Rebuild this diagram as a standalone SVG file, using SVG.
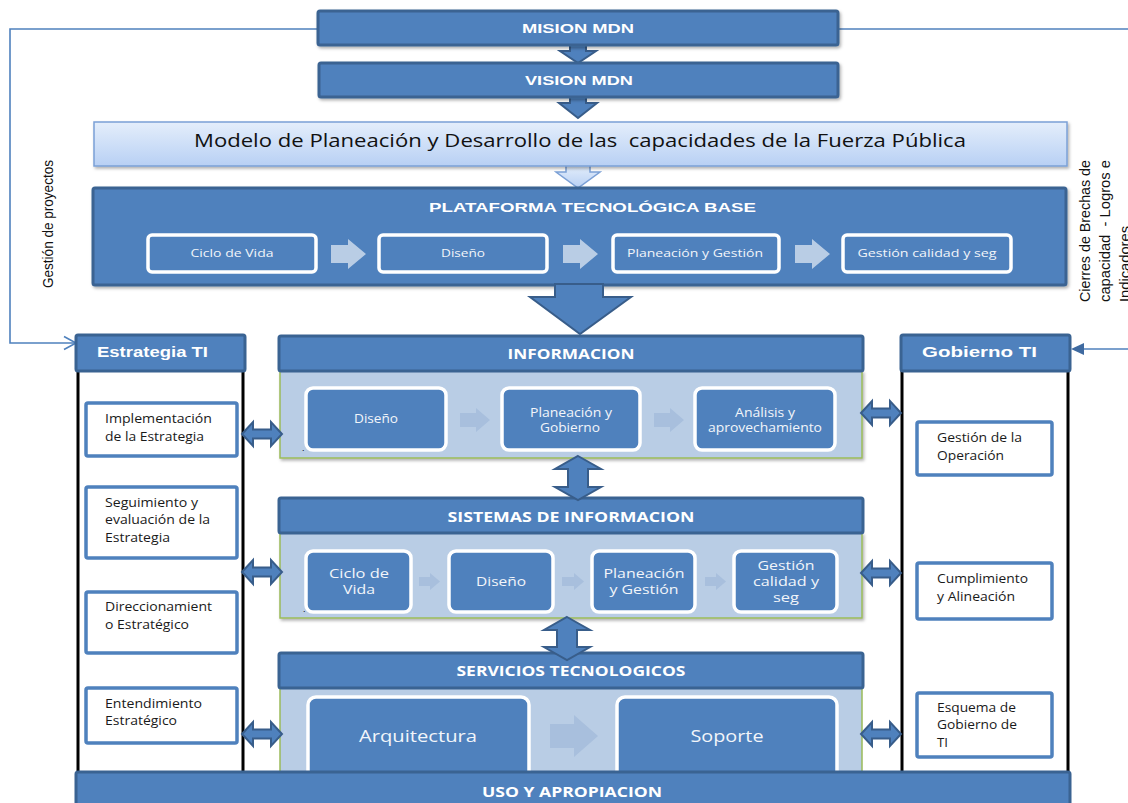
<svg xmlns="http://www.w3.org/2000/svg" xmlns:xlink="http://www.w3.org/1999/xlink" width="1128" height="803" viewBox="0 0 1128 803">
<defs>
  <linearGradient id="gModelo" x1="0" y1="0" x2="0" y2="1">
    <stop offset="0" stop-color="#e4eefb"/>
    <stop offset="1" stop-color="#b8d0f4"/>
  </linearGradient>
  <filter id="sh" x="-5%" y="-20%" width="110%" height="150%">
    <feDropShadow dx="1.5" dy="2" stdDeviation="1.5" flood-color="#000" flood-opacity="0.3"/>
  </filter>
  <path id="ha" d="M-20,0 L-9,-12 L-9,-4.5 L9,-4.5 L9,-12 L20,0 L9,12 L9,4.5 L-9,4.5 L-9,12 Z"/>
</defs>
<style>
  .blue{fill:#4f81bd;stroke:#3a6392;stroke-width:3}
  .arr{fill:#4f81bd;stroke:#385d8a;stroke-width:2;stroke-linejoin:miter}
  .body{fill:#b9cde5;stroke:#9bbb59;stroke-width:1.5}
  .inner{fill:#4f81bd;stroke:#ffffff;stroke-width:3.5}
  .wbox{fill:#ffffff;stroke:#4f81bd;stroke-width:3.5}
  .lite{fill:#b9cde5}
  .lite2{fill:#a8bfdd}
  .line{fill:none;stroke:#4f81bd;stroke-width:1.6}
  .col{stroke:#000;stroke-width:3}
  .ah{font-family:"Liberation Sans",Arial,sans-serif;font-weight:bold;fill:#ffffff}
  .ch{font-family:"Open Sans","Liberation Sans",sans-serif;font-weight:bold;fill:#ffffff}
  .ct{font-family:"Open Sans","Liberation Sans",sans-serif;fill:#f2f5fa}
  .dk{font-family:"Open Sans","Liberation Sans",sans-serif;fill:#1a1a1a;font-size:12.5px}
  .rot{font-family:"Liberation Sans",Arial,sans-serif;fill:#111;font-size:14px}
  .mid{text-anchor:middle}
</style>

<rect width="1128" height="803" fill="#ffffff"/>

<!-- connectors -->
<g id="connectors">
  <path class="line" d="M318,29 H10 V343 H75"/>
  <path class="line" d="M64,336.5 L76,343 L64,349.5"/>
  <path class="line" d="M838,29 H1128"/>
  <path class="line" d="M1128,349 H1082"/>
  <path d="M1071,349 L1084,343 L1084,355 Z" fill="#3f6aa0"/>
  <path class="arr" d="M570,45 H586 V51 H596 L578,63 L560,51 H570 Z"/>
  <path class="arr" d="M570,97 H586 V103 H597 L578,118 L559,103 H570 Z"/>
  <path d="M566,165 H590 V172 H600 L578,188 L556,172 H566 Z" fill="url(#gModelo)" stroke="#7ba0d6" stroke-width="1.5"/>
</g>

<g id="rot-gestion">
  <text class="rot" transform="translate(53,288) rotate(-90)" textLength="128" lengthAdjust="spacingAndGlyphs">Gestión de proyectos</text>
</g>
<g id="rot-cierres">
  <text class="rot" transform="translate(1090,302) rotate(-90)" textLength="142" lengthAdjust="spacingAndGlyphs">Cierres de Brechas de</text>
  <text class="rot" transform="translate(1110,302) rotate(-90)" textLength="142" lengthAdjust="spacingAndGlyphs">capacidad&#160; - Logros e</text>
  <text class="rot" transform="translate(1130,302) rotate(-90)" textLength="76" lengthAdjust="spacingAndGlyphs">Indicadores</text>
</g>

<g id="mision">
  <rect class="blue" x="318" y="11" width="520" height="34" rx="2" filter="url(#sh)"/>
  <text class="ah" x="522" y="33" font-size="13" textLength="112" lengthAdjust="spacingAndGlyphs">MISION MDN</text>
</g>
<g id="vision">
  <rect class="blue" x="319" y="63" width="519" height="34" rx="2" filter="url(#sh)"/>
  <text class="ah" x="525" y="85" font-size="13" textLength="108" lengthAdjust="spacingAndGlyphs">VISION MDN</text>
</g>
<g id="modelo">
  <rect x="94" y="122" width="973" height="44" fill="url(#gModelo)" stroke="#7ba0d6" stroke-width="1.5" filter="url(#sh)"/>
  <text x="194" y="147" font-family="'Open Sans','Liberation Sans',sans-serif" font-size="17.5" fill="#111" textLength="772" lengthAdjust="spacingAndGlyphs">Modelo de Planeación y Desarrollo de las&#160; capacidades de la Fuerza Pública</text>
</g>

<g id="plataforma">
  <rect class="blue" x="93" y="188" width="973" height="97" rx="2" filter="url(#sh)"/>
  <text class="ah" x="429" y="212" font-size="13" textLength="327" lengthAdjust="spacingAndGlyphs">PLATAFORMA TECNOLÓGICA BASE</text>
  <rect class="inner" x="148" y="235" width="168" height="37" rx="4"/>
  <rect class="inner" x="379" y="235" width="168" height="37" rx="4"/>
  <rect class="inner" x="613" y="235" width="166" height="37" rx="4"/>
  <rect class="inner" x="843" y="235" width="168" height="37" rx="4"/>
  <text class="ct mid" x="232" y="257" font-size="11" textLength="83" lengthAdjust="spacingAndGlyphs">Ciclo de Vida</text>
  <text class="ct mid" x="463" y="257" font-size="11" textLength="44" lengthAdjust="spacingAndGlyphs">Diseño</text>
  <text class="ct mid" x="695" y="257" font-size="11" textLength="136" lengthAdjust="spacingAndGlyphs">Planeación y Gestión</text>
  <text class="ct mid" x="927" y="257" font-size="11" textLength="139" lengthAdjust="spacingAndGlyphs">Gestión calidad y seg</text>
  <path class="lite" d="M331,245 H348 V239 L366,254 L348,269 V263 H331 Z"/>
  <path class="lite" d="M563,245 H580 V239 L598,254 L580,269 V263 H563 Z"/>
  <path class="lite" d="M795,245 H812 V239 L830,254 L812,269 V263 H795 Z"/>
</g>
<g id="big-arrow">
  <path class="arr" d="M555,284 H603 V297 H631 L580,334 L530,297 H555 Z"/>
</g>

<g id="estrategia">
  <rect x="78" y="371" width="165" height="402" fill="#ffffff"/>
  <line class="col" x1="78" y1="370" x2="78" y2="774"/>
  <line class="col" x1="243" y1="370" x2="243" y2="774"/>
  <rect class="blue" x="76" y="335" width="169" height="36" rx="2"/>
  <text class="ah" x="97" y="357" font-size="15" textLength="111" lengthAdjust="spacingAndGlyphs">Estrategia TI</text>
</g>
<g id="est-impl">
  <rect class="wbox" x="86" y="403" width="151" height="53" rx="2"/>
  <text class="dk" x="105" y="423" textLength="107" lengthAdjust="spacingAndGlyphs">Implementación</text>
  <text class="dk" x="105" y="441" textLength="99" lengthAdjust="spacingAndGlyphs">de la Estrategia</text>
</g>
<g id="est-seg">
  <rect class="wbox" x="86" y="487" width="151" height="71" rx="2"/>
  <text class="dk" x="105" y="507" textLength="93" lengthAdjust="spacingAndGlyphs">Seguimiento y</text>
  <text class="dk" x="105" y="524" textLength="105" lengthAdjust="spacingAndGlyphs">evaluación de la</text>
  <text class="dk" x="105" y="542" textLength="65" lengthAdjust="spacingAndGlyphs">Estrategia</text>
</g>
<g id="est-dir">
  <rect class="wbox" x="86" y="592" width="151" height="61" rx="2"/>
  <text class="dk" x="105" y="611" textLength="107" lengthAdjust="spacingAndGlyphs">Direccionamient</text>
  <text class="dk" x="105" y="629" textLength="84" lengthAdjust="spacingAndGlyphs">o Estratégico</text>
</g>
<g id="est-ent">
  <rect class="wbox" x="86" y="688" width="151" height="55" rx="2"/>
  <text class="dk" x="105" y="708" textLength="97" lengthAdjust="spacingAndGlyphs">Entendimiento</text>
  <text class="dk" x="105" y="725" textLength="72" lengthAdjust="spacingAndGlyphs">Estratégico</text>
</g>

<g id="gobierno">
  <rect x="902" y="371" width="166" height="402" fill="#ffffff"/>
  <line class="col" x1="902" y1="370" x2="902" y2="774"/>
  <line class="col" x1="1068" y1="370" x2="1068" y2="774"/>
  <rect class="blue" x="901" y="335" width="169" height="36" rx="2"/>
  <text class="ah" x="922" y="357" font-size="15" textLength="115" lengthAdjust="spacingAndGlyphs">Gobierno TI</text>
</g>
<g id="gob-op">
  <rect class="wbox" x="917" y="422" width="135" height="53" rx="2"/>
  <text class="dk" x="937" y="442" textLength="85" lengthAdjust="spacingAndGlyphs">Gestión de la</text>
  <text class="dk" x="937" y="460" textLength="67" lengthAdjust="spacingAndGlyphs">Operación</text>
</g>
<g id="gob-cum">
  <rect class="wbox" x="917" y="563" width="135" height="56" rx="2"/>
  <text class="dk" x="937" y="583" textLength="91" lengthAdjust="spacingAndGlyphs">Cumplimiento</text>
  <text class="dk" x="937" y="601" textLength="78" lengthAdjust="spacingAndGlyphs">y Alineación</text>
</g>
<g id="gob-esq">
  <rect class="wbox" x="917" y="693" width="135" height="64" rx="2"/>
  <text class="dk" x="937" y="712" textLength="79" lengthAdjust="spacingAndGlyphs">Esquema de</text>
  <text class="dk" x="937" y="729" textLength="80" lengthAdjust="spacingAndGlyphs">Gobierno de</text>
  <text class="dk" x="937" y="747" textLength="11" lengthAdjust="spacingAndGlyphs">TI</text>
</g>

<g id="informacion">
  <rect class="body" x="280" y="371" width="582" height="87" filter="url(#sh)"/>
  <rect class="blue" x="279" y="336" width="584" height="35" rx="2"/>
  <text class="ch mid" x="571" y="359" font-size="14" textLength="127" lengthAdjust="spacingAndGlyphs">INFORMACION</text>
  <rect class="inner" x="306" y="388" width="140" height="62" rx="7"/>
  <rect class="inner" x="502" y="388" width="138" height="62" rx="7"/>
  <rect class="inner" x="695" y="388" width="140" height="62" rx="7"/>
  <path class="lite2" d="M460,413 H476 V408 L490,420 L476,432 V427 H460 Z"/>
  <path class="lite2" d="M654,413 H670 V408 L684,420 L670,432 V427 H654 Z"/>
  <text class="ct mid" x="376" y="423" font-size="12.5" textLength="44" lengthAdjust="spacingAndGlyphs">Diseño</text>
  <text class="ct mid" x="571" y="417" font-size="12.5" textLength="82" lengthAdjust="spacingAndGlyphs">Planeación y</text>
  <text class="ct mid" x="570" y="432" font-size="12.5" textLength="60" lengthAdjust="spacingAndGlyphs">Gobierno</text>
  <text class="ct mid" x="765" y="417" font-size="12.5" textLength="60" lengthAdjust="spacingAndGlyphs">Análisis y</text>
  <text class="ct mid" x="765" y="432" font-size="12.5" textLength="114" lengthAdjust="spacingAndGlyphs">aprovechamiento</text>
  <text x="302" y="451" font-family="'Liberation Sans',sans-serif" font-size="9" fill="#000">.</text>
</g>

<g id="sistemas">
  <rect class="body" x="280" y="533" width="582" height="85" filter="url(#sh)"/>
  <rect class="blue" x="279" y="498" width="584" height="35" rx="2"/>
  <text class="ch mid" x="571" y="522" font-size="14" textLength="247" lengthAdjust="spacingAndGlyphs">SISTEMAS DE INFORMACION</text>
  <rect class="inner" x="306" y="551" width="105" height="61" rx="7"/>
  <rect class="inner" x="449" y="551" width="104" height="61" rx="7"/>
  <rect class="inner" x="592" y="551" width="103" height="61" rx="7"/>
  <rect class="inner" x="734" y="551" width="103" height="61" rx="7"/>
  <path class="lite2" d="M419,577 H430 V573 L440,581.5 L430,590 V586 H419 Z"/>
  <path class="lite2" d="M562,577 H574 V573 L584,581.5 L574,590 V586 H562 Z"/>
  <path class="lite2" d="M705,577 H716 V573 L726,581.5 L716,590 V586 H705 Z"/>
  <text class="ct mid" x="359" y="578" font-size="13" textLength="60" lengthAdjust="spacingAndGlyphs">Ciclo de</text>
  <text class="ct mid" x="359" y="594" font-size="13" textLength="32" lengthAdjust="spacingAndGlyphs">Vida</text>
  <text class="ct mid" x="501" y="586" font-size="13" textLength="50" lengthAdjust="spacingAndGlyphs">Diseño</text>
  <text class="ct mid" x="644" y="578" font-size="13" textLength="81" lengthAdjust="spacingAndGlyphs">Planeación</text>
  <text class="ct mid" x="644" y="594" font-size="13" textLength="69" lengthAdjust="spacingAndGlyphs">y Gestión</text>
  <text class="ct mid" x="786" y="570" font-size="13" textLength="57" lengthAdjust="spacingAndGlyphs">Gestión</text>
  <text class="ct mid" x="786" y="586" font-size="13" textLength="66" lengthAdjust="spacingAndGlyphs">calidad y</text>
  <text class="ct mid" x="786" y="602" font-size="13" textLength="26" lengthAdjust="spacingAndGlyphs">seg</text>
  <text x="303" y="612" font-family="'Liberation Sans',sans-serif" font-size="9" fill="#000">.</text>
</g>

<g id="servicios">
  <rect class="body" x="280" y="688" width="582" height="90"/>
  <rect class="blue" x="279" y="653" width="584" height="35" rx="2"/>
  <text class="ch mid" x="571" y="676" font-size="14" textLength="229" lengthAdjust="spacingAndGlyphs">SERVICIOS TECNOLOGICOS</text>
  <rect class="inner" x="308" y="697" width="221" height="84" rx="8"/>
  <rect class="inner" x="617" y="697" width="220" height="84" rx="8"/>
  <path class="lite2" d="M550,724 H574 V715 L598,736 L574,757 V748 H550 Z"/>
  <text class="ct mid" x="418" y="742" font-size="17" textLength="118" lengthAdjust="spacingAndGlyphs">Arquitectura</text>
  <text class="ct mid" x="727" y="742" font-size="17" textLength="73" lengthAdjust="spacingAndGlyphs">Soporte</text>
</g>

<g id="double-arrows">
  <path class="arr" d="M578,456 L601,469 L588,469 L588,487 L601,487 L578,500 L555,487 L568,487 L568,469 L555,469 Z"/>
  <path class="arr" d="M567,617 L590,630 L577,630 L577,647 L590,647 L567,660 L544,647 L557,647 L557,630 L544,630 Z"/>
  <use xlink:href="#ha" href="#ha" class="arr" x="262" y="434"/>
  <use xlink:href="#ha" href="#ha" class="arr" x="262" y="572"/>
  <use xlink:href="#ha" href="#ha" class="arr" x="262" y="734"/>
  <use xlink:href="#ha" href="#ha" class="arr" x="881" y="413"/>
  <use xlink:href="#ha" href="#ha" class="arr" x="881" y="573"/>
  <use xlink:href="#ha" href="#ha" class="arr" x="881" y="734"/>
</g>

<g id="uso">
  <rect class="blue" x="76" y="772" width="994" height="40" rx="2"/>
  <text class="ch mid" x="572" y="797" font-size="14" textLength="180" lengthAdjust="spacingAndGlyphs">USO Y APROPIACION</text>
</g>
</svg>
